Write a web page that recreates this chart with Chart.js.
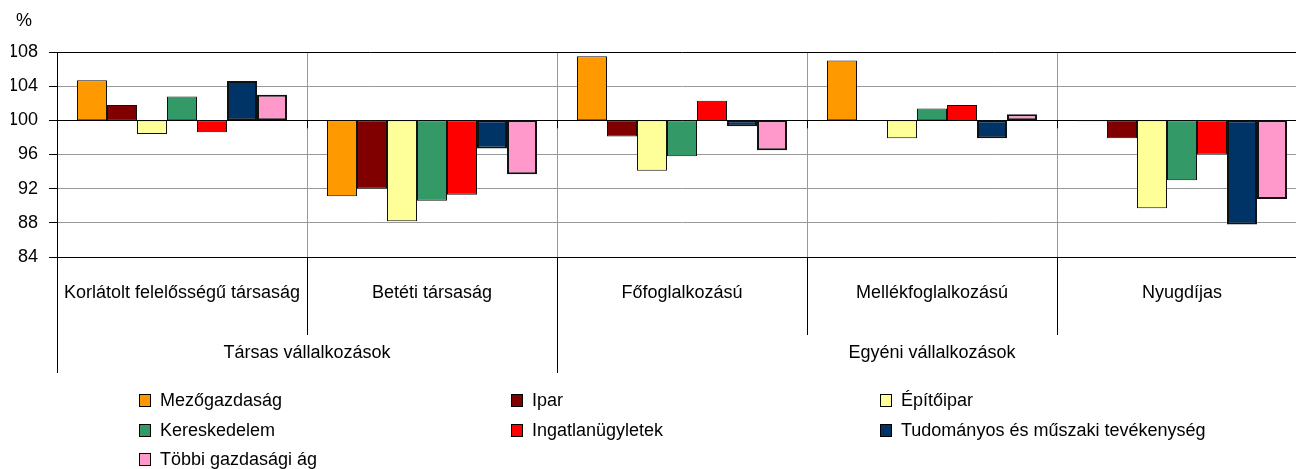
<!DOCTYPE html>
<html>
<head>
<meta charset="utf-8">
<script src="https://cdn.jsdelivr.net/npm/chart.js@4/dist/chart.umd.min.js"></script>
<style>
  body { margin: 0; overflow: hidden; background: #fff; font-family: "Liberation Sans", Arial, sans-serif; }
  #wrap { position: relative; width: 1310px; height: 469px; }
  #legend { position: absolute; left: 0; top: 0; width: 1310px; height: 469px; pointer-events: none; }
  .item { position: absolute; font-size: 18px; line-height: 20px; color: #000; white-space: nowrap; }
  .box { display: inline-block; width: 12px; height: 13px; border: 1px solid #000; box-sizing: border-box; vertical-align: -1px; margin-right: 9px; }
</style>
</head>
<body>
<div id="wrap">
  <canvas id="chart" width="1310" height="380"></canvas>
  <div id="legend"></div>
</div>
<script>
// categories and groups
var categories = ["Korlátolt felelősségű társaság", "Betéti társaság", "Főfoglalkozású", "Mellékfoglalkozású", "Nyugdíjas"];
var groups = ["Társas vállalkozások", "Egyéni vállalkozások"];
var groupSizes = [2, 3];
var base = 100; // bars start from 100%
var yTicks = [84, 88, 92, 96, 100, 104, 108];

// series values (%)
var seriesNames = ["Mezőgazdaság", "Ipar", "Építőipar", "Kereskedelem", "Ingatlanügyletek", "Tudományos és műszaki tevékenység", "Többi gazdasági ág"];
var mezogazdasag = [104.7, 91.1, 107.5, 107.0, 99.9];
var ipar = [101.8, 92.0, 98.1, 100.0, 97.9];
var epitoipar = [98.4, 88.2, 94.1, 97.9, 89.7];
var kereskedelem = [102.8, 90.6, 95.8, 101.4, 93.0];
var ingatlan = [98.6, 91.3, 102.3, 101.8, 96.0];
var tudomanyos = [104.6, 96.7, 99.3, 97.9, 87.8];
var tobbi = [103.0, 93.7, 96.5, 100.7, 90.8];

var seriesValues = [mezogazdasag, ipar, epitoipar, kereskedelem, ingatlan, tudomanyos, tobbi];
var colors = ["#FF9900", "#800000", "#FFFF99", "#339966", "#FF0000", "#003366", "#FF99CC"];
var borders = [1, 1, 1, 1, 1, 2, 2];
var font = "'Liberation Sans', Arial, sans-serif";

var datasets = seriesValues.map(function (vals, i) {
    return {
        label: seriesNames[i],
        data: vals.map(function (v) { return [base, v]; }), // floating bars from 100
        backgroundColor: colors[i],
        borderColor: "#111",
        borderWidth: borders[i],
        borderSkipped: false
    };
});

// draws the % label, the axis ticks at 100, the separators and group labels
var extras = {
    id: "extras",
    afterDraw: function (chart) {
        var ctx = chart.ctx;
        var y = chart.scales.y;
        var area = chart.chartArea;
        var catW = (area.right - area.left) / categories.length;
        var y100 = y.getPixelForValue(base);
        ctx.save();
        ctx.fillStyle = "#000";
        ctx.font = "18px " + font;
        ctx.textAlign = "left";
        ctx.textBaseline = "middle";
        ctx.fillText("%", 16, 21);

        ctx.strokeStyle = "#000";
        ctx.lineWidth = 1;
        // short ticks under the 100 line
        for (var i = 1; i < categories.length; i++) {
            var bx = Math.round(area.left + i * catW) + 0.5;
            ctx.beginPath();
            ctx.moveTo(bx, y100);
            ctx.lineTo(bx, y100 + 8);
            ctx.stroke();
        }
        // separators below the plot
        var groupEdges = [0];
        groupSizes.forEach(function (s) { groupEdges.push(groupEdges[groupEdges.length - 1] + s); });
        for (var j = 0; j <= categories.length; j++) {
            var sx = Math.round(area.left + j * catW) + 0.5;
            var len = groupEdges.indexOf(j) >= 0 ? 116 : 78;
            ctx.beginPath();
            ctx.moveTo(sx, area.bottom);
            ctx.lineTo(sx, area.bottom + len);
            ctx.stroke();
        }
        // group labels
        ctx.textAlign = "center";
        for (var g = 0; g < groups.length; g++) {
            var gx = area.left + (groupEdges[g] + groupEdges[g + 1]) / 2 * catW;
            ctx.fillText(groups[g], gx, area.bottom + 96);
        }
        ctx.restore();
    }
};

var ctx = document.getElementById("chart").getContext("2d");
var chart = new Chart(ctx, {
    type: "bar",
    data: { labels: categories, datasets: datasets },
    options: {
        responsive: false,
        animation: false,
        layout: { padding: { left: 11, right: 3, top: 52, bottom: 76 } },
        plugins: { legend: { display: false }, tooltip: { enabled: false } },
        datasets: { bar: { categoryPercentage: 0.84, barPercentage: 1 } },
        scales: {
            x: {
                grid: { offset: true, color: "#999", drawTicks: false },
                border: { color: "#000" },
                ticks: { color: "#000", padding: 25, maxRotation: 0, font: { size: 18, family: font } },
                afterFit: function (axis) { axis.height = 47; }
            },
            y: {
                min: yTicks[0],
                max: yTicks[yTicks.length - 1],
                afterBuildTicks: function (axis) { axis.ticks = yTicks.map(function (v) { return { value: v }; }); },
                afterFit: function (axis) { axis.width = 46; },
                grid: {
                    color: function (c) { var v = c.tick && c.tick.value; return (v === 100 || v === 108 || v === 84) ? "#000" : "#999"; },
                    tickColor: "#000",
                    tickLength: 8
                },
                border: { color: "#000" },
                ticks: { color: "#000", padding: 11, font: { size: 18, family: font } }
            }
        }
    },
    plugins: [extras]
});

// legend in three columns
var legend = document.getElementById("legend");
var colX = [139, 511, 880];
var rowY = [390, 420, 449];
seriesNames.forEach(function (name, i) {
    var d = document.createElement("div");
    d.className = "item";
    d.style.left = colX[i % 3] + "px";
    d.style.top = rowY[Math.floor(i / 3)] + "px";
    d.innerHTML = "<span class='box' style='background:" + colors[i] + "'></span>" + name;
    legend.appendChild(d);
});
</script>
</body>
</html>
